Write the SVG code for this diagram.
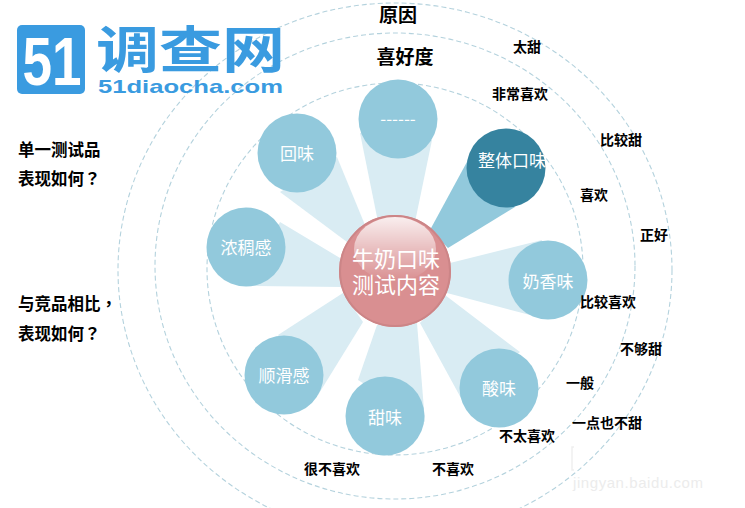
<svg xmlns="http://www.w3.org/2000/svg" width="745" height="508" viewBox="0 0 745 508">
<style>
.ring{fill:none;stroke:#b4d2dd;stroke-width:1.1;stroke-dasharray:5 3}
.beam{fill:#d9ecf3}
.n{fill:#92c9dc}
.t{font-family:"Noto Sans CJK SC","Noto Sans",sans-serif;fill:#fff;font-size:17px;text-anchor:middle}
.l{font-family:"Noto Sans CJK SC","Noto Sans",sans-serif;fill:#000;font-weight:700;font-size:14px;text-anchor:middle}
.h{font-family:"Noto Sans CJK SC","Noto Sans",sans-serif;fill:#000;font-weight:700;font-size:19px;text-anchor:middle}
.s{font-family:"Noto Sans CJK TC","Noto Sans",sans-serif;fill:#000;font-weight:700;font-size:16.5px}
.c{font-family:"Noto Sans CJK SC",sans-serif;fill:#fff;font-size:22px;text-anchor:middle}
.b{font-family:"Liberation Sans",sans-serif;fill:#3a9be0;font-weight:700}
</style>
<defs>
<linearGradient id="gloss" x1="0" y1="0" x2="0" y2="1"><stop offset="0" stop-color="#fff" stop-opacity=".85"/><stop offset="1" stop-color="#fff" stop-opacity="0"/></linearGradient>
</defs>
<rect width="745" height="508" fill="#fff"/>
<g id="rings">
<ellipse class="ring" cx="395" cy="270" rx="277" ry="267"/>
<ellipse class="ring" cx="395" cy="266" rx="240" ry="233"/>
<ellipse class="ring" cx="395" cy="269" rx="188" ry="186"/>
</g>
<g id="connectors">
<polygon class="beam" points="360,133 432,140 415,222 378,222"/>
<polygon class="beam" points="280,192 337,157 365,225 347,242"/>
<polygon class="beam" points="280,222 247,286 342,287 340,258"/>
<polygon class="beam" points="278,335 318,395 363,322 343,293"/>
<polygon class="beam" points="358,380 425,422 417,323 377,325"/>
<polygon class="beam" points="462,400 520,352 445,295 420,323"/>
<polygon class="beam" points="542,240 530,315 447,293 450,263"/>
<polygon fill="#92c9dc" points="468,160 515,207 448,248 430,230"/>
</g>
<g id="logo">
<rect x="17" y="25" width="68" height="69" rx="5" fill="#3a9be0"/>
<text x="52" y="85" font-family="Liberation Sans,sans-serif" font-weight="700" font-size="69" fill="#fff" text-anchor="middle" textLength="59" lengthAdjust="spacingAndGlyphs">51</text>
<text class="b" x="96" y="68" style="font-family:'Noto Sans CJK SC',sans-serif" font-size="50" textLength="189" lengthAdjust="spacingAndGlyphs">调查网</text>
<text class="b" x="98" y="93" font-size="18.5" textLength="185" lengthAdjust="spacingAndGlyphs">51diaocha.com</text>
</g>
<g id="node-more"><circle class="n" cx="398" cy="119" r="39.5"/><text class="t" x="398" y="125">------</text></g>
<g id="node-overall"><circle cx="506" cy="168" r="39.5" fill="#36839f"/><text class="t" x="512" y="167">整体口味</text></g>
<g id="node-milk"><circle class="n" cx="548" cy="280" r="39.5"/><text class="t" x="548" y="288">奶香味</text></g>
<g id="node-sour"><circle class="n" cx="499" cy="388" r="39.5"/><text class="t" x="499" y="395">酸味</text></g>
<g id="node-sweet"><circle class="n" cx="385" cy="416" r="39.5"/><text class="t" x="385" y="424">甜味</text></g>
<g id="node-smooth"><circle class="n" cx="284" cy="375" r="39.5"/><text class="t" x="284" y="382">顺滑感</text></g>
<g id="node-thick"><circle class="n" cx="246" cy="247" r="39.5"/><text class="t" x="246" y="254">浓稠感</text></g>
<g id="node-after"><circle class="n" cx="297" cy="153" r="39.5"/><text class="t" x="297" y="160">回味</text></g>
<g id="node-center">
<circle cx="395" cy="271" r="56" fill="#d98f91"/>
<circle cx="395" cy="271" r="55" fill="none" stroke="#cc8587" stroke-width="2"/>
<ellipse cx="395" cy="249" rx="41" ry="32" fill="url(#gloss)"/>
<text class="c" x="396" y="267">牛奶口味</text>
<text class="c" x="396" y="293">测试内容</text>
</g>
<g id="labels">
<text class="h" x="398" y="22">原因</text>
<text class="h" x="405" y="64">喜好度</text>
<text class="s" x="18" y="156">单一测试品</text>
<text class="s" x="18" y="185">表现如何？</text>
<text class="s" x="18" y="310">与竞品相比，</text>
<text class="s" x="18" y="340">表现如何？</text>
<text class="l" x="527" y="52">太甜</text>
<text class="l" x="520" y="99">非常喜欢</text>
<text class="l" x="621" y="145">比较甜</text>
<text class="l" x="594" y="200">喜欢</text>
<text class="l" x="654" y="240">正好</text>
<text class="l" x="608" y="307">比较喜欢</text>
<text class="l" x="641" y="354">不够甜</text>
<text class="l" x="580" y="388">一般</text>
<text class="l" x="607" y="428">一点也不甜</text>
<text class="l" x="527" y="441">不太喜欢</text>
<text class="l" x="453" y="474">不喜欢</text>
<text class="l" x="332" y="474">很不喜欢</text>
</g>
<g id="watermark">
<path d="M574,447 H572 V470 H574" fill="none" stroke="#efefef" stroke-width="1.5"/>
<text x="573" y="488" font-family="Liberation Sans,sans-serif" font-size="15" fill="#ececec" textLength="130">jingyan.baidu.com</text>
</g>
</svg>
